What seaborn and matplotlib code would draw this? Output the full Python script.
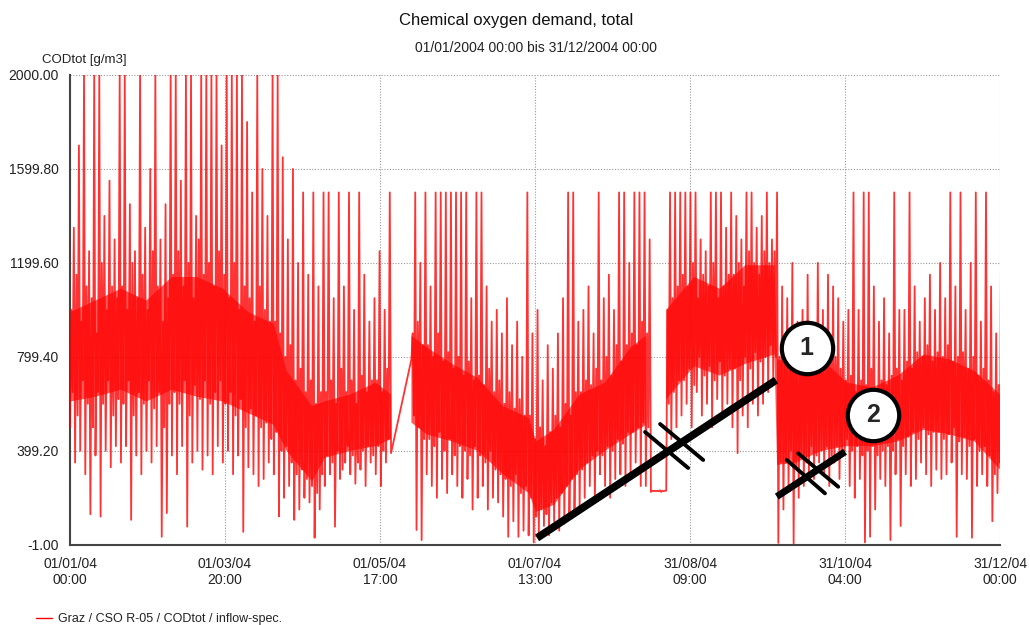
import numpy as np
import pandas as pd
import matplotlib
matplotlib.use("Agg")
import matplotlib.pyplot as plt
from matplotlib.lines import Line2D
import seaborn as sns

nan = np.nan

# COD readings in g/m3, one block every two days:
# low (day 2i) -> inner high -> inner low -> high (day 2i+1.5)
lows = [
    500, 350, 400, 300, 130, 380, 120, 400, 330, 420,
    350, 420, 106, 380, 300, 400, 350, 420, 34, 135,
    380, 300, 420, 77, 350, 400, 320, 380, 300, 420,
    350, 400, 300, 380, 55, 330, 300, 250, 280, 350,
    300, 121, 200, 250, 106, 150, 200, 180, 30, 150,
    250, 300, 77, 280, 350, 300, 260, 320, 250, 350,
    300, 250, 350, 390, nan, nan, nan, 790, 63, 20,
    300, 250, 200, 280, 220, 300, 250, 200, 280, 150,
    200, 250, 150, 200, 180, 120, 34, 100, 34, 60,
    40, 10, 50, 80, 40, 100, 60, 90, 120, 150,
    150, 200, 250, 180, 300, 250, 200, 280, 300, 250,
    300, 350, 250, 250, 225, 228, 225, 230, 450, 500,
    550, 600, 500, 650, 550, 600, 500, 620, 550, 600,
    500, 390, 550, 500, 600, 550, 600, 650, 700, 8,
    150, 250, 5, 200, 250, 300, 280, 350, 300, 250,
    350, 280, 400, 250, 200, 280, 10, 34, 150, 280,
    250, 20, 300, 80, 300, 250, 280, 350, 300, 250,
    320, 280, 300, 350, 34, 300, 280, 30, 250, 300,
    250, 100, 220,
]
inner_hi = [
    1000, 1150, 950, 1100, 1050, 900, 1200, 1000, 1100, 1050,
    1100, 1000, 1200, 1050, 1150, 1000, 1250, 1100, 950, 1050,
    1150, 1250, 1100, 1200, 1050, 1300, 1150, 1200, 1100, 1250,
    1150, 1050, 1200, 1000, 1100, 1050, 950, 1100, 1000, 950,
    950, 900, 800, 850, 700, 750, 650, 700, 600, 650,
    650, 700, 600, 750, 650, 700, 600, 720, 650, 700,
    700, 650, 750, nan, nan, nan, nan, 900, 950, 850,
    850, 800, 900, 780, 820, 750, 800, 720, 780, 700,
    720, 680, 750, 650, 700, 600, 650, 580, 620, 550,
    550, 450, 500, 420, 480, 550, 500, 600, 550, 650,
    650, 700, 680, 750, 700, 800, 720, 850, 780, 850,
    900, 850, 950, 900, 230, 230, 230, 1000, 1050, 1100,
    1150, 1100, 1200, 1050, 1150, 1100, 1200, 1050, 1100, 1150,
    1150, 1200, 1100, 1250, 1200, 1150, 1250, 1200, 1250, 800,
    800, 750, 820, 780, 850, 750, 800, 820, 780, 850,
    800, 750, 700, 720, 650, 700, 680, 750, 650, 700,
    680, 720, 750, 700, 780, 750, 820, 800, 850, 780,
    820, 800, 850, 780, 800, 820, 750, 800, 720, 750,
    700, 650, 680,
]
inner_lo = [
    650, 550, 700, 600, 500, 650, 600, 700, 550, 620,
    600, 700, 550, 650, 600, 700, 580, 650, 500, 600,
    650, 600, 700, 550, 680, 620, 700, 600, 650, 700,
    600, 650, 550, 620, 500, 580, 550, 500, 520, 450,
    480, 400, 420, 350, 300, 320, 280, 250, 220, 300,
    380, 350, 400, 320, 420, 380, 350, 400, 420, 380,
    420, 400, 450, nan, nan, nan, nan, 550, 500, 450,
    450, 420, 480, 400, 450, 380, 420, 400, 380, 420,
    380, 350, 400, 320, 300, 280, 250, 300, 220, 250,
    200, 120, 150, 130, 180, 200, 220, 250, 280, 300,
    320, 350, 380, 400, 380, 420, 400, 450, 430, 480,
    480, 500, 520, 500, 228, 228, 228, 600, 650, 700,
    700, 750, 680, 800, 720, 760, 700, 780, 720, 750,
    750, 700, 800, 750, 820, 780, 800, 850, 800, 350,
    350, 400, 330, 380, 350, 420, 380, 400, 420, 380,
    420, 380, 450, 400, 420, 380, 400, 420, 380, 400,
    420, 400, 450, 420, 460, 480, 450, 500, 470, 480,
    480, 450, 470, 500, 440, 460, 420, 450, 400, 420,
    380, 300, 350,
]
highs = [
    1350, 1700, 2000, 1250, 2000, 2000, 1400, 1550, 1300, 2000,
    2000, 1450, 1250, 2000, 1350, 1600, 2000, 1300, 1450, 2000,
    2000, 1550, 2000, 2000, 1400, 2000, 2000, 2000, 2000, 1700,
    2000, 2000, 2000, 2000, 1800, 1500, 2000, 1600, 1400, 2000,
    2000, 1650, 1300, 1600, 1200, 1500, 1150, 1500, 1100, 1500,
    1500, 1050, 1500, 1100, 1500, 1000, 1500, 1150, 950, 1050,
    1250, 1000, 1500, nan, nan, nan, nan, 1500, 1200, 1500,
    1100, 1500, 1500, 1500, 1500, 1500, 1500, 1500, 1050, 1500,
    1500, 1100, 950, 1000, 900, 1050, 850, 950, 800, 1500,
    900, 1000, 700, 850, 750, 900, 1050, 1500, 1500, 950,
    1000, 1100, 900, 1500, 1050, 1150, 1000, 1500, 1500, 1200,
    1500, 1500, 1500, 1300, 230, 232, 230, 1500, 1500, 1500,
    1500, 1500, 1500, 1300, 1250, 1500, 1500, 1500, 1350, 1500,
    1400, 1300, 1500, 1500, 1350, 1400, 1500, 1300, 1500, 1100,
    1050, 1200, 950, 1000, 1150, 900, 1200, 1000, 1150, 1100,
    1050, 950, 1000, 1500, 1000, 1500, 1500, 1100, 950, 1050,
    900, 1500, 1000, 1000, 1500, 1100, 950, 1050, 1150, 1000,
    1200, 1050, 1500, 1100, 1500, 1000, 1200, 1500, 950, 1500,
    1100, 900, 1500,
]
assert len(lows) == len(inner_hi) == len(inner_lo) == len(highs) == 183

# solid centre of the daily cycle
core_day = [0, 10, 20, 30, 40, 50, 60, 70, 80, 85,
            95, 100, 110, 120, 126, 130, 134, 140, 150, 160,
            170, 180, 183, 190, 200, 210, 220, 226, 230, 234,
            245, 255, 265, 276.5, 277.5, 285, 295, 305, 315, 325,
            335, 345, 355, 365]
core_lo = [610, 630, 660, 610, 660, 630, 610, 560, 510, 400,
           270, 370, 400, 420, 450, nan, 520, 470, 440, 400,
           300, 220, 140, 170, 320, 400, 470, 510, nan, 620,
           760, 720, 770, 810, 340, 350, 400, 420, 420, 440,
           490, 470, 440, 320]
core_hi = [990, 1040, 1090, 1040, 1140, 1140, 1090, 990, 940, 740,
           590, 610, 640, 690, 640, nan, 890, 840, 770, 710,
           590, 540, 440, 490, 640, 690, 840, 890, nan, 1000,
           1140, 1090, 1190, 1190, 790, 770, 790, 690, 670, 720,
           810, 790, 740, 640]

xtick_labels = ["01/01/04\n00:00", "01/03/04\n20:00", "01/05/04\n17:00",
                "01/07/04\n13:00", "31/08/04\n09:00", "31/10/04\n04:00",
                "31/12/04\n00:00"]
ytick_values = [-1.0, 399.2, 799.4, 1199.6, 1599.8, 2000.0]

# hand drawn markings (day, value)
mark1 = ([183.3, 277.1], [29, 701])
mark1_hash = [([225.7, 242.6], [480, 327]), ([231.6, 248.5], [514, 361])]
mark2 = ([277.4, 304.2], [205, 396])
mark2_hash = [([281.3, 296.3], [361, 219]), ([285.8, 301.5], [389, 247])]
circles = [(289.1, 836, "1"), (315.3, 552, "2")]

# build the series
t_days, cod = [], []
for i in range(len(lows)):
    t_days += [2 * i, 2 * i + 0.5, 2 * i + 1, 2 * i + 1.5]
    cod += [lows[i], inner_hi[i], inner_lo[i], highs[i]]
df = pd.DataFrame({"day": t_days, "cod": cod}).dropna()

sns.set_style("white")
plt.rcParams["font.family"] = ["Liberation Sans", "DejaVu Sans"]

fig = plt.figure(figsize=(10.3, 6.25), dpi=100)
ax = fig.add_axes([70 / 1030, 80 / 625, 930 / 1030, 470 / 625])

ax.fill_between(core_day, core_lo, core_hi, color="#ff0000", alpha=0.65,
                lw=0, zorder=2)
sns.lineplot(data=df, x="day", y="cod", color="#ff0000", lw=1.3, alpha=0.8,
             estimator=None, sort=False, ax=ax, zorder=3)

# markings
ax.plot(*mark1, color="black", lw=5.5, solid_capstyle="butt", zorder=5)
for hx, hy in mark1_hash:
    ax.plot(hx, hy, color="black", lw=2.8, zorder=5)
ax.plot(*mark2, color="black", lw=5, solid_capstyle="butt", zorder=5)
for hx, hy in mark2_hash:
    ax.plot(hx, hy, color="black", lw=2.8, zorder=5)
for cx, cy, txt in circles:
    ax.plot(cx, cy, "o", ms=37, mfc="white", mec="black", mew=3, zorder=6)
    ax.text(cx, cy, txt, ha="center", va="center", fontsize=18,
            fontweight="bold", zorder=7)

ax.set_xlim(0, 365)
ax.set_ylim(-1, 2000)
ax.set_xticks(np.linspace(0, 365, 7))
ax.set_xticklabels(xtick_labels)
ax.set_yticks(ytick_values)
ax.set_yticklabels([f"{v:.2f}" for v in ytick_values])
ax.set_xlabel("")
ax.set_ylabel("")

ax.grid(True, color="#999999", linestyle=(0, (1, 1.5)), lw=0.8)
ax.set_axisbelow(True)
for s in ["top", "right"]:
    ax.spines[s].set_visible(False)
for s in ["left", "bottom"]:
    ax.spines[s].set_color("#444444")
    ax.spines[s].set_linewidth(1.5)
ax.tick_params(direction="inout", length=9, width=1.2, color="#444444",
               labelsize=10, labelcolor="#222222")
ax.tick_params(axis="x", pad=4)

fig.text(0.501, 0.968, "Chemical oxygen demand, total", ha="center",
         va="center", fontsize=12, color="#111111")
fig.text(0.520, 0.923, "01/01/2004 00:00 bis 31/12/2004 00:00", ha="center",
         va="center", fontsize=10, color="#222222")
fig.text(84 / 1030, 1 - 60 / 625, "CODtot [g/m3]", ha="center", va="center",
         fontsize=9.5, color="#222222")

fig.legend(handles=[Line2D([], [], color="#ff0000", lw=1)],
           labels=["Graz / CSO R-05 / CODtot / inflow-spec."],
           loc="center left", bbox_to_anchor=(36 / 1030, 6 / 625),
           frameon=False, fontsize=9, handlelength=1.3, handletextpad=0.5,
           borderpad=0, borderaxespad=0, labelcolor="#222222")

fig.savefig("out.png", dpi=100)
